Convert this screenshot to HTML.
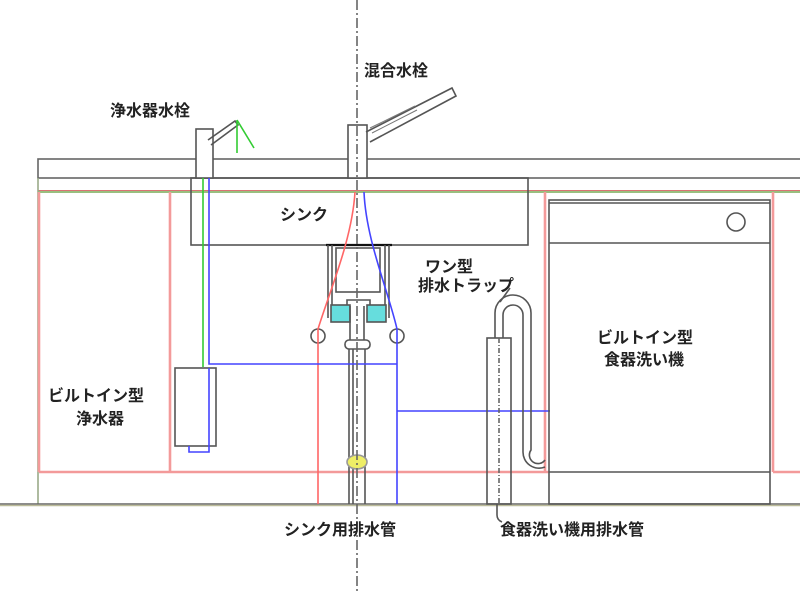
<!DOCTYPE html>
<html><head><meta charset="utf-8"><style>
html,body{margin:0;padding:0;background:#fff}
svg{display:block}
text{font-family:"Liberation Sans","Noto Sans CJK JP",sans-serif;font-size:16px;fill:#222;font-weight:bold;stroke:#fff;stroke-width:0}
</style></head><body>
<svg width="800" height="594" viewBox="0 0 800 594" xmlns="http://www.w3.org/2000/svg">
<g fill="none" stroke-width="1.6">
<rect x="38" y="159" width="770" height="19" stroke="#666"/>
<line x1="38" y1="192" x2="800" y2="192" stroke="#7a5"/>
<line x1="38" y1="190.5" x2="800" y2="190.5" stroke="#c44" stroke-width="0.8"/>
<line x1="38" y1="178" x2="38" y2="504" stroke="#9a8"/>
<line x1="0" y1="504" x2="800" y2="504" stroke="#666"/>
<line x1="0" y1="505.5" x2="800" y2="505.5" stroke="#bb9"/>
<g stroke="#f39a9a" stroke-width="2.6">
<line x1="39" y1="192" x2="39" y2="472"/>
<line x1="170" y1="192" x2="170" y2="472"/>
<line x1="39" y1="472" x2="549" y2="472"/>
<line x1="545" y1="192" x2="545" y2="472"/>
<line x1="773" y1="192" x2="773" y2="472"/>
<line x1="773" y1="472" x2="800" y2="472"/>
</g>
<rect x="191" y="178" width="337" height="67" stroke="#555"/>
<rect x="196" y="129" width="17" height="49" stroke="#555" fill="#fff"/>
<path d="M208 140 L235 121 L238 125 L211 145" stroke="#555"/>
<path d="M237 120 L237 153 M237 120 L254 148" stroke="#3c3"/>
<rect x="348" y="125" width="19" height="53" stroke="#555" fill="#fff"/>
<path d="M366 132 L452 88 L456 96 L370 142" stroke="#555"/>
<path d="M370 128 L415 106 M372 133 L417 110" stroke="#777" stroke-width="1"/>
<line x1="326" y1="245" x2="392" y2="245" stroke="#111" stroke-width="2.2"/>
<path d="M328 245 V318 M332 245 V306 M385 245 V306 M389 245 V318" stroke="#555"/>
<rect x="336" y="248" width="44" height="44" stroke="#555"/>
<path d="M347 306 V300 H370 V306" stroke="#555"/>
<rect x="331" y="305" width="19" height="17" fill="#6dd" stroke="#555"/>
<rect x="367" y="305" width="19" height="17" fill="#6dd" stroke="#555"/>
<circle cx="318" cy="336" r="7" stroke="#555" fill="#fff"/>
<circle cx="397" cy="336" r="7" stroke="#555" fill="#fff"/>
<path d="M350 306 V340 M364 306 V340" stroke="#555"/>
<rect x="345" y="340" width="25" height="9" rx="4" stroke="#555"/>
<path d="M349 349 V504 M365 349 V504 M353 349 V504" stroke="#555"/>
<ellipse cx="357" cy="462" rx="10" ry="7" fill="#ee6" stroke="#999"/>
<path d="M355 192 C352 240 330 290 318 329 V504" stroke="#f66"/>
<path d="M364 192 C366 240 388 290 397 329 V504" stroke="#44f"/>
<path d="M209 178 V364 H397" stroke="#44f"/>
<path d="M203 178 V367" stroke="#3c3"/>
<line x1="397" y1="411" x2="550" y2="411" stroke="#44f"/>
<rect x="175" y="368" width="41" height="78" stroke="#555" fill="#fff"/>
<path d="M209 368 V452 H189 V446" stroke="#44f"/>
<rect x="487" y="338" width="24" height="166" stroke="#555"/>
<line x1="499" y1="338" x2="499" y2="504" stroke="#666" stroke-dasharray="5 2 1 2"/>
<path d="M495 338 V313 A18 18 0 0 1 531 313 V450 A8 8 0 0 0 545 460" stroke="#555"/>
<path d="M503 338 V315 A10 10 0 0 1 523 315 V452 A16 16 0 0 0 545 467" stroke="#555"/>
<rect x="549" y="200" width="221" height="304" stroke="#555"/>
<line x1="549" y1="203" x2="770" y2="203" stroke="#555"/>
<line x1="549" y1="243" x2="770" y2="243" stroke="#555"/>
<line x1="549" y1="472" x2="770" y2="472" stroke="#555"/>
<circle cx="736" cy="222" r="9" stroke="#555"/>
<line x1="357" y1="0" x2="357" y2="594" stroke="#666" stroke-dasharray="10 3 2 3"/>
<path d="M497 504 V515 Q497 520 502 522" stroke="#555"/>
<path d="M500 302 L510 288" stroke="#555"/>
</g>
<text x="110" y="116">浄水器水栓</text>
<text x="364" y="76">混合水栓</text>
<text x="280" y="220">シンク</text>
<text x="425" y="272">ワン型</text>
<text x="418" y="291">排水トラップ</text>
<text x="48" y="401">ビルトイン型</text>
<text x="76" y="424">浄水器</text>
<text x="597" y="343">ビルトイン型</text>
<text x="604" y="365">食器洗い機</text>
<text x="284" y="535">シンク用排水管</text>
<text x="500" y="535">食器洗い機用排水管</text>
</svg>
</body></html>
